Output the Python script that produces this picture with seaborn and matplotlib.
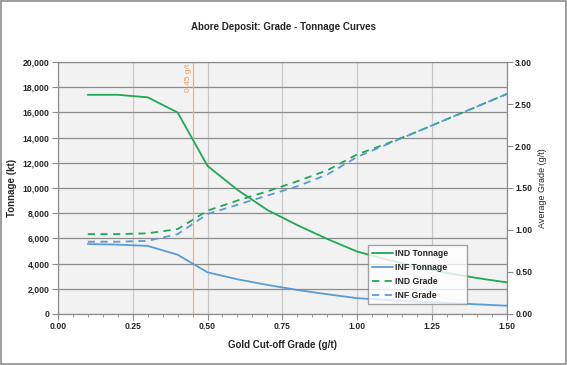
import matplotlib
matplotlib.use('Agg')
import matplotlib.pyplot as plt
import matplotlib.ticker as mticker
import pandas as pd
import seaborn as sns

cutoff = [0.1, 0.2, 0.3, 0.4, 0.5, 0.6, 0.7, 0.8, 0.9, 1.0, 1.1, 1.2, 1.3, 1.4, 1.5]
ind_tonnage = [17400, 17400, 17200, 16000, 11750, 9850, 8250, 7050, 5950, 4950,
               4300, 3750, 3250, 2850, 2500]
inf_tonnage = [5550, 5500, 5400, 4700, 3300, 2750, 2300, 1900, 1560, 1250,
               1100, 980, 880, 760, 650]
ind_grade = [0.95, 0.95, 0.96, 1.01, 1.23, 1.35, 1.46, 1.58, 1.71, 1.90,
             2.03, 2.17, 2.32, 2.47, 2.62]
inf_grade = [0.86, 0.86, 0.87, 0.95, 1.19, 1.30, 1.41, 1.52, 1.66, 1.87,
             2.02, 2.17, 2.32, 2.47, 2.62]
cutoff_marker = 0.45

green = '#1fa857'
blue = '#5b9bd5'
orange = '#f4b183'

df = pd.DataFrame({'cutoff': cutoff, 'ind_t': ind_tonnage, 'inf_t': inf_tonnage,
                   'ind_g': ind_grade, 'inf_g': inf_grade})

sns.set_style('white')
plt.rcParams['font.family'] = ['Liberation Sans', 'DejaVu Sans']

fig = plt.figure(figsize=(5.67, 3.65), dpi=100)
ax = fig.add_axes([0.102, 0.140, 0.792, 0.690])
ax.set_facecolor('#f2f2f2')
ax2 = ax.twinx()

sns.lineplot(data=df, x='cutoff', y='ind_t', ax=ax, color=green, lw=1.3, label='IND Tonnage', legend=False)
sns.lineplot(data=df, x='cutoff', y='inf_t', ax=ax, color=blue, lw=1.3, label='INF Tonnage', legend=False)
sns.lineplot(data=df, x='cutoff', y='ind_g', ax=ax2, color=green, lw=1.3, ls=(0, (4, 3)), label='IND Grade', legend=False)
sns.lineplot(data=df, x='cutoff', y='inf_g', ax=ax2, color=blue, lw=1.3, ls=(0, (4, 3)), label='INF Grade', legend=False)

ax.axvline(cutoff_marker, color=orange, lw=0.9, zorder=1)
ax.text(cutoff_marker - 0.012, 19900, f'{cutoff_marker:.2f} g/t', rotation=90, color='#ed9a5f',
        fontsize=6, ha='center', va='top')

ax.set_xlim(0, 1.5)
ax.set_ylim(0, 20000)
ax2.set_ylim(0, 3)
ax.xaxis.set_major_locator(mticker.MultipleLocator(0.25))
ax.xaxis.set_minor_locator(mticker.MultipleLocator(0.05))
ax.yaxis.set_major_locator(mticker.MultipleLocator(2000))
ax2.yaxis.set_major_locator(mticker.MultipleLocator(0.5))
ax.xaxis.set_major_formatter(mticker.FormatStrFormatter('%.2f'))
ax.yaxis.set_major_formatter(mticker.StrMethodFormatter('{x:,.0f}'))
ax2.yaxis.set_major_formatter(mticker.FormatStrFormatter('%.2f'))

ax.grid(axis='y', color='#8c8c8c', lw=0.9)
ax.grid(axis='x', color='#c8c8c8', lw=0.9)
ax.set_axisbelow(True)

for a in (ax, ax2):
    for s in a.spines.values():
        s.set_color('#8c8c8c')
        s.set_linewidth(0.8)
    a.tick_params(which='major', length=4, width=0.8, color='#8c8c8c', labelsize=6.2, pad=2)
    a.tick_params(which='minor', length=2, width=0.6, color='#8c8c8c')
    for lab in a.get_yticklabels():
        lab.set_fontweight('bold')
ax.tick_params(axis='x', which='both', direction='out', bottom=True)
ax.tick_params(axis='y', left=True)
ax2.tick_params(axis='y', right=True)
for lab in ax.get_xticklabels():
    lab.set_fontweight('bold')

ax.set_xlabel('Gold Cut-off Grade (g/t)', fontsize=7, fontweight='bold', labelpad=6)
ax.set_ylabel('Tonnage (kt)', fontsize=7, fontweight='bold', labelpad=4)
ax2.set_ylabel('Average Grade (g/t)', fontsize=6.5, labelpad=4)
fig.text(0.5, 0.925, 'Abore Deposit: Grade - Tonnage Curves', ha='center', va='center',
         fontsize=7, fontweight='bold')

h1, l1 = ax.get_legend_handles_labels()
h2, l2 = ax2.get_legend_handles_labels()
leg = ax2.legend(h1 + h2, l1 + l2, loc='lower left', bbox_to_anchor=(0.649, 0.167, 0.175, 0.153),
                 bbox_transform=fig.transFigure, mode='expand', fontsize=6.2, frameon=True,
                 fancybox=False, handlelength=2.4, handletextpad=0.3, borderpad=0.45,
                 labelspacing=0.6, borderaxespad=0)
leg.get_frame().set_edgecolor('#8c8c8c')
leg.get_frame().set_linewidth(1.0)
for t in leg.get_texts():
    t.set_fontweight('bold')

fig.patches.append(plt.Rectangle((0.002, 0.003), 0.996, 0.994, transform=fig.transFigure,
                                 fill=False, edgecolor='#8c8c8c', lw=1.2))

fig.savefig('out.png', dpi=100)
